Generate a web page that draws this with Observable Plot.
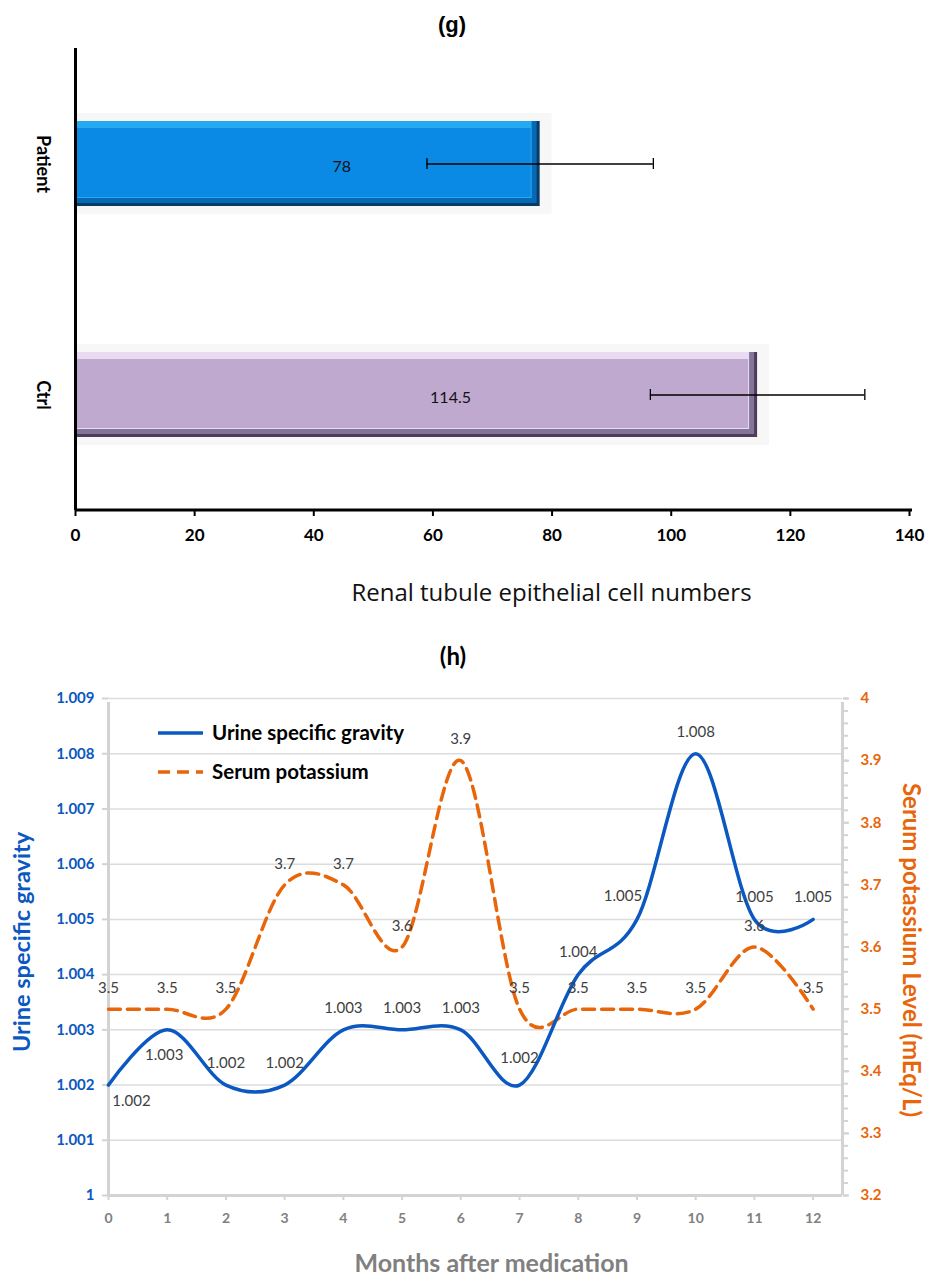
<!DOCTYPE html>
<html>
<head>
<meta charset="utf-8">
<script src="https://cdn.jsdelivr.net/npm/d3@7"></script>
<script src="https://cdn.jsdelivr.net/npm/@observablehq/plot@0.6"></script>
<style>
  html, body { margin: 0; padding: 0; background: #ffffff; }
  #root { position: relative; width: 928px; height: 1275px; overflow: hidden; font-family: Lato, "Open Sans", sans-serif; }
  .abs { position: absolute; }
  .ttl { position: absolute; transform: translate(-50%, -50%); font-weight: bold; color: #000; white-space: nowrap; }
</style>
</head>
<body>
<div id="root">
  <div id="chartG" class="abs" style="left:0;top:0"></div>
  <div class="ttl" style="left:452px;top:25px;font-family:'Liberation Sans',Arial,sans-serif;font-size:22px;">(g)</div>
  <div id="chartH" class="abs" style="left:0;top:640px"></div>
  <div class="ttl" style="left:453px;top:655px;font-family:Lato,sans-serif;font-size:24px;">(h)</div>
  <div id="legend" class="abs" style="left:150px;top:715px"></div>
</div>
<script>
// ---------- Data: chart (g) ----------
const categories = ["Patient", "Ctrl"];
const cellMeans = [78, 114.5];
const cellErrors = [19, 18];
const cellTicks = [0, 20, 40, 60, 80, 100, 120, 140];

// ---------- Data: chart (h) ----------
const months = [0, 1, 2, 3, 4, 5, 6, 7, 8, 9, 10, 11, 12];
const urineSG = [1.002, 1.003, 1.002, 1.002, 1.003, 1.003, 1.003, 1.002, 1.004, 1.005, 1.008, 1.005, 1.005];
const serumK = [3.5, 3.5, 3.5, 3.7, 3.7, 3.6, 3.9, 3.5, 3.5, 3.5, 3.5, 3.6, 3.5];
const urineTicks = [1, 1.001, 1.002, 1.003, 1.004, 1.005, 1.006, 1.007, 1.008, 1.009];
const serumTicks = [3.2, 3.3, 3.4, 3.5, 3.6, 3.7, 3.8, 3.9, 4];
const serumMinorTicks = d3.range(3.2, 4.001, 0.02);
const monthDomain = [0, 12.5];

// ---------- Styles ----------
const FONT = "Lato, 'Open Sans', sans-serif";
const barStyle = {
  Patient: { dark: "#083c68", mid: "#0669b5", light: "#25a9ef", main: "#0a8ae4" },
  Ctrl:    { dark: "#4c3e5a", mid: "#85749a", light: "#e9dcf2", main: "#bfa9cf" }
};
const BLUE = "#0a58c0", ORANGE = "#e8650a", GREY_AX = "#d3d3d3", GRID = "#dcdcdc";

// ---------- Chart (g) ----------
const gData = categories.map((c, i) => ({ cat: c, value: cellMeans[i], err: cellErrors[i] }));
const band = 73;
const chartG = Plot.plot({
  width: 928, height: 620,
  marginTop: 48, marginBottom: 110, marginLeft: 75, marginRight: 19,
  x: { domain: [0, 140], axis: null },
  y: { domain: categories, axis: null, padding: 0 },
  color: { type: "identity" },
  style: { fontFamily: FONT, background: "transparent", overflow: "visible" },
  marks: [
    Plot.barX(gData, { y: "cat", x: "value", fill: "#f7f7f7", insetTop: band - 8, insetBottom: band - 8, insetRight: -12 }),
    Plot.barX(gData, { y: "cat", x: "value", fill: d => barStyle[d.cat].dark, insetTop: band, insetBottom: band }),
    Plot.barX(gData, { y: "cat", x: "value", fill: d => barStyle[d.cat].mid, insetTop: band, insetBottom: band + 3, insetRight: 3 }),
    Plot.barX(gData, { y: "cat", x: "value", fill: d => barStyle[d.cat].light, insetTop: band, insetBottom: band + 8, insetRight: 8 }),
    Plot.barX(gData, { y: "cat", x: "value", fill: d => barStyle[d.cat].main, insetTop: band + 7, insetBottom: band + 9, insetRight: 9, insetLeft: 2 }),
    Plot.ruleY(gData, { y: "cat", x1: d => d.value - d.err, x2: d => d.value + d.err, stroke: "#000", strokeWidth: 1.3 }),
    Plot.tickX(gData, { y: "cat", x: d => d.value - d.err, stroke: "#000", strokeWidth: 1.3, insetTop: 110, insetBottom: 110 }),
    Plot.tickX(gData, { y: "cat", x: d => d.value + d.err, stroke: "#000", strokeWidth: 1.3, insetTop: 110, insetBottom: 110 }),
    Plot.text(gData, { y: "cat", x: d => d.value / 2, text: d => String(d.value), dx: 34, dy: 3, fontSize: 16, fill: "#111" }),
    Plot.ruleX([0], { stroke: "#000", strokeWidth: 3 }),
    Plot.rect([0], { fill: "#000", insetTop: 460.5, insetBottom: -1.5, insetRight: -3 }),
    Plot.axisX({ ticks: cellTicks, tickFormat: d => String(d), tickSize: 6, tickPadding: 12, strokeWidth: 2, stroke: "#000", fill: "#000", fontWeight: "bold", fontSize: 17, label: null }),
    Plot.text(categories, { y: d => d, text: d => d, frameAnchor: "left", textAnchor: "middle", dx: -33, rotate: 90, fontWeight: "bold", fontSize: 18, fill: "#000" }),
    Plot.text(["Renal tubule epithelial cell numbers"], { frameAnchor: "bottom", text: d => d, dy: 90, dx: 59, fontSize: 24, fill: "#111", fontFamily: "'Open Sans', Lato, sans-serif" })
  ]
});
document.getElementById("chartG").appendChild(chartG);

// ---------- Chart (h) ----------
const toU = v => 1 + (v - 3.2) / 0.8 * 0.009;
const fromU = u => 3.2 + (u - 1) / 0.009 * 0.8;
const hData = months.map((m, i) => ({ m, u: urineSG[i], k: serumK[i], ku: toU(serumK[i]), i }));
const fmtU = d => Math.abs(d - 1) < 1e-9 ? "1" : d.toFixed(3);
const fmtK = d => { const v = Math.round(fromU(d) * 10) / 10; return v === 4 ? "4" : v.toFixed(1); };
const labelOpts = { fontSize: 15, fill: "#404040", fontFamily: FONT };

const chartH = Plot.plot({
  width: 928, height: 635,
  marginTop: 58, marginBottom: 80, marginLeft: 108, marginRight: 86,
  x: { domain: monthDomain, axis: null },
  y: { domain: [1, 1.009], axis: null },
  style: { fontFamily: FONT, background: "transparent", overflow: "visible" },
  marks: [
    Plot.ruleY(urineTicks.slice(1), { stroke: GRID, strokeWidth: 1.5 }),
    Plot.ruleX([monthDomain[0]], { stroke: GREY_AX, strokeWidth: 3, y1: 1, y2: 1.009, insetBottom: -4 }),
    Plot.ruleX([monthDomain[1]], { stroke: GREY_AX, strokeWidth: 3, y1: 1, y2: 1.009, insetBottom: -4 }),
    Plot.ruleY([1], { stroke: GREY_AX, strokeWidth: 3 }),
    Plot.axisY({ ticks: urineTicks, tickFormat: fmtU, anchor: "left", tickSize: 6, tickPadding: 8, stroke: GREY_AX, strokeWidth: 2, fill: BLUE, fontWeight: "bold", fontSize: 15, label: null }),
    Plot.axisY({ ticks: serumMinorTicks.map(toU), tickFormat: () => "", anchor: "right", tickSize: 5, stroke: GREY_AX, strokeWidth: 2, label: null }),
    Plot.axisY({ ticks: serumTicks.map(toU), tickFormat: fmtK, anchor: "right", tickSize: 6, tickPadding: 12, stroke: GREY_AX, strokeWidth: 2, fill: ORANGE, fontWeight: "bold", fontSize: 15, label: null }),
    Plot.axisX({ ticks: months, tickFormat: d => String(d), tickSize: 5, tickPadding: 13, stroke: GREY_AX, strokeWidth: 2, fill: "#808080", fontWeight: "bold", fontSize: 14, label: null }),
    Plot.line(hData, { x: "m", y: "ku", curve: "cardinal", stroke: ORANGE, strokeWidth: 3.5, strokeDasharray: "12,7" }),
    Plot.line(hData, { x: "m", y: "u", curve: "cardinal", stroke: BLUE, strokeWidth: 3.5 }),
    // serum labels
    Plot.text(hData, { x: "m", y: "ku", text: d => String(d.k), dy: -21, ...labelOpts }),
    // urine labels
    Plot.text(hData.filter(d => d.i === 0), { x: "m", y: "u", text: d => d.u.toFixed(3), dx: 23, dy: 16, ...labelOpts }),
    Plot.text(hData.filter(d => d.i === 1), { x: "m", y: "u", text: d => d.u.toFixed(3), dx: -3, dy: 25, ...labelOpts }),
    Plot.text(hData.filter(d => d.i === 7), { x: "m", y: "u", text: d => d.u.toFixed(3), dy: -27, ...labelOpts }),
    Plot.text(hData.filter(d => d.i === 9), { x: "m", y: "u", text: d => d.u.toFixed(3), dx: -14, dy: -23, ...labelOpts }),
    Plot.text(hData.filter(d => ![0, 1, 7, 9].includes(d.i)), { x: "m", y: "u", text: d => d.u.toFixed(3), dy: -22, ...labelOpts }),
    // axis titles
    Plot.text(["Urine specific gravity"], { frameAnchor: "left", textAnchor: "middle", text: d => d, dx: -86, dy: -5, rotate: -90, fontSize: 23.5, fontWeight: "bold", fill: BLUE }),
    Plot.text(["Serum potassium Level (mEq/L)"], { frameAnchor: "right", textAnchor: "middle", text: d => d, dx: 68, dy: 3, rotate: 90, fontSize: 24, fontWeight: "bold", fill: ORANGE }),
    Plot.text(["Months after medication"], { frameAnchor: "bottom", text: d => d, dx: 16, dy: 76, fontSize: 25, fontWeight: "bold", fill: "#808080" })
  ]
});
document.getElementById("chartH").appendChild(chartH);

// ---------- Legend ----------
const legendItems = [
  { label: "Urine specific gravity", color: BLUE, dash: null },
  { label: "Serum potassium", color: ORANGE, dash: "12,7" }
];
const lg = d3.create("svg").attr("width", 320).attr("height", 80).style("overflow", "visible");
legendItems.forEach((it, i) => {
  const y = 18 + i * 39;
  lg.append("line").attr("x1", 8).attr("x2", 53).attr("y1", y).attr("y2", y)
    .attr("stroke", it.color).attr("stroke-width", 3.5).attr("stroke-dasharray", it.dash);
  lg.append("text").attr("x", 62).attr("y", y).attr("dy", "0.35em")
    .attr("font-family", FONT).attr("font-weight", "bold").attr("font-size", 20.5).attr("fill", "#000")
    .text(it.label);
});
document.getElementById("legend").appendChild(lg.node());
</script>
</body>
</html>
